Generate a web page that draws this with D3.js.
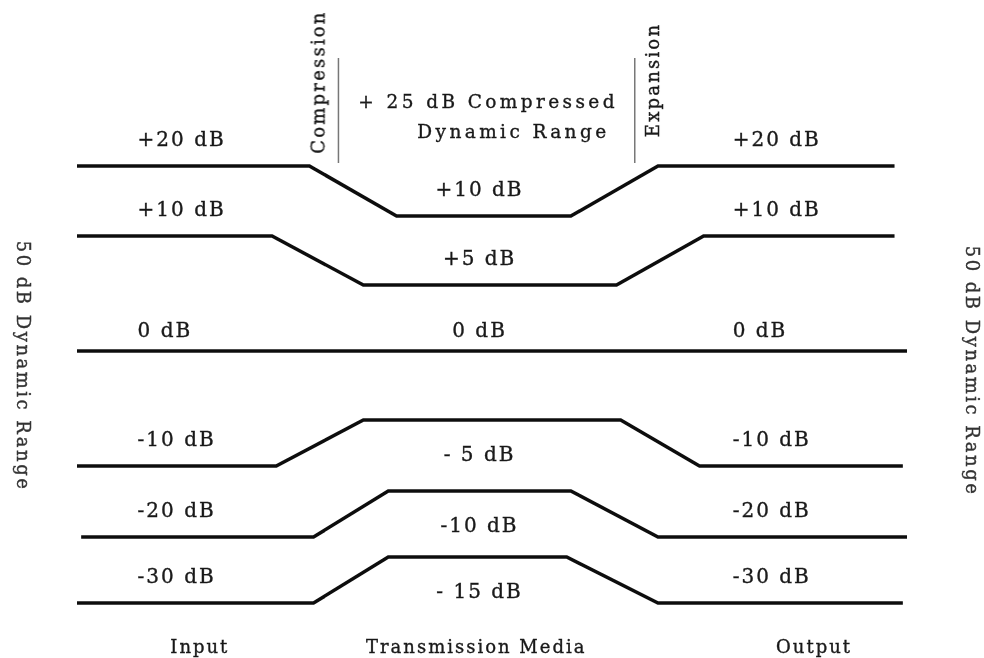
<!DOCTYPE html>
<meta charset="utf-8">
<style>
body { margin: 0; background: #fff; }
text { font-family: "DejaVu Serif", serif; fill: #1a1a1a; stroke: #1a1a1a; stroke-width: 0.35px; }
.level { font-size: 20px; letter-spacing: 2px; }
.caption { font-size: 18.5px; letter-spacing: 3.4px; }
.rot { font-size: 18px; letter-spacing: 2.2px; }
.stage { font-size: 18px; letter-spacing: 2px; }
.side { font-size: 18px; letter-spacing: 2.5px; fill: #333; stroke: #333; }
.line { fill: none; stroke: #111; stroke-width: 3.5px; stroke-linejoin: miter; }
.bar { stroke: #777; stroke-width: 1.5px; }
</style>
<svg width="984" height="658"></svg>
<script src="https://d3js.org/d3.v7.min.js"></script>
<script>
// levels in dB: input/output and on the transmission media
var inputLevels = [20, 10, 0, -10, -20, -30];
var mediaLevels = [10, 5, 0, -5, -10, -15];
var inputLabels = ["+20 dB", "+10 dB", "0 dB", "-10 dB", "-20 dB", "-30 dB"];
var mediaLabels = ["+10 dB", "+5 dB", "0 dB", "- 5 dB", "-10 dB", "- 15 dB"];
var outputLabels = ["+20 dB", "+10 dB", "0 dB", "-10 dB", "-20 dB", "-30 dB"];
// where each level bends along the signal path (0 = input, 100 = output)
var pathStart     = [0, 0, 0, 0, 0.5, 0];
var compressStart = [28, 23.5, 30, 24, 28.5, 28.5];
var compressEnd   = [38.5, 34.5, 36, 34.5, 37.5, 37.5];
var expandStart   = [59.5, 65, 63, 65.5, 59.5, 59];
var expandEnd     = [70, 75.5, 69, 75, 70, 70];
var pathEnd       = [98.5, 98.5, 100, 99.5, 100, 99.5];
var stages = ["Input", "Transmission Media", "Output"];

var svg = d3.select("svg");

var defs = svg.append("defs");
defs.append("filter").attr("id", "soft")
  .append("feGaussianBlur").attr("stdDeviation", 0.5);

var g = svg.append("g").attr("filter", "url(#soft)");

var x = d3.scaleLinear().domain([0, 100]).range([77, 907]);
var yIn = d3.scaleLinear()
    .domain([-30, -20, -10, 0, 10, 20])
    .range([603, 537, 466, 351, 236, 166]);
var yTx = d3.scaleLinear()
    .domain([-15, -10, -5, 0, 5, 10])
    .range([557, 491, 420, 351, 285, 216]);

var line = d3.line().x(function(d) { return x(d[0]); }).y(function(d) { return d[1]; });

var rows = inputLevels.map(function(lv, i) {
  return {
    i: i,
    level: lv,
    media: mediaLevels[i],
    pts: [
      [pathStart[i], yIn(lv)],
      [compressStart[i], yIn(lv)],
      [compressEnd[i], yTx(mediaLevels[i])],
      [expandStart[i], yTx(mediaLevels[i])],
      [expandEnd[i], yIn(lv)],
      [pathEnd[i], yIn(lv)]
    ]
  };
});

g.selectAll(".line")
  .data(rows)
  .enter().append("path")
    .attr("class", "line")
    .attr("d", function(d) { return line(d.pts); });

// input labels
g.selectAll(".inLabel")
  .data(rows)
  .enter().append("text")
    .attr("class", "level")
    .attr("x", x(7.3))
    .attr("y", function(d) { return yIn(d.level) - (d.level === 0 ? 14 : 20); })
    .text(function(d) { return inputLabels[d.i]; });

// output labels
g.selectAll(".outLabel")
  .data(rows)
  .enter().append("text")
    .attr("class", "level")
    .attr("x", x(79))
    .attr("y", function(d) { return yIn(d.level) - (d.level === 0 ? 14 : 20); })
    .text(function(d) { return outputLabels[d.i]; });

// media labels (above for positive, below for negative)
g.selectAll(".txLabel")
  .data(rows)
  .enter().append("text")
    .attr("class", "level")
    .attr("text-anchor", "middle")
    .attr("x", x(48.5))
    .attr("y", function(d) {
      if (d.media > 0) return yTx(d.media) - 20;
      if (d.media === 0) return yTx(d.media) - 14;
      return yTx(d.media) + 41;
    })
    .text(function(d) { return mediaLabels[d.i]; });

// compression / expansion markers
g.append("line").attr("class", "bar")
  .attr("x1", x(31.5)).attr("x2", x(31.5)).attr("y1", 58).attr("y2", 163);
g.append("line").attr("class", "bar")
  .attr("x1", x(67.2)).attr("x2", x(67.2)).attr("y1", 58).attr("y2", 163);

g.append("text").attr("class", "rot")
  .attr("text-anchor", "middle")
  .attr("transform", "translate(" + (x(29.1) + 6) + ",82) rotate(-90)")
  .text("Compression");
g.append("text").attr("class", "rot")
  .attr("text-anchor", "middle")
  .attr("transform", "translate(" + (x(69.4) + 6) + ",80) rotate(-90)")
  .text("Expansion");

g.append("text").attr("class", "caption")
  .attr("x", x(33.9)).attr("y", 108)
  .text("+ 25 dB Compressed");
g.append("text").attr("class", "caption")
  .attr("x", x(41)).attr("y", 138)
  .text("Dynamic Range");

// stage names
var stageX = [14.8, 48.1, 88.8];
g.selectAll(".stage")
  .data(stages)
  .enter().append("text")
    .attr("class", "stage")
    .attr("text-anchor", "middle")
    .attr("x", function(d, i) { return x(stageX[i]); })
    .attr("y", 653)
    .text(function(d) { return d; });

// side captions
g.append("text").attr("class", "side")
  .attr("text-anchor", "middle")
  .attr("transform", "translate(17,366) rotate(90)")
  .text("50 dB Dynamic Range");
g.append("text").attr("class", "side")
  .attr("text-anchor", "middle")
  .attr("transform", "translate(966,371) rotate(90)")
  .text("50 dB Dynamic Range");
</script>
